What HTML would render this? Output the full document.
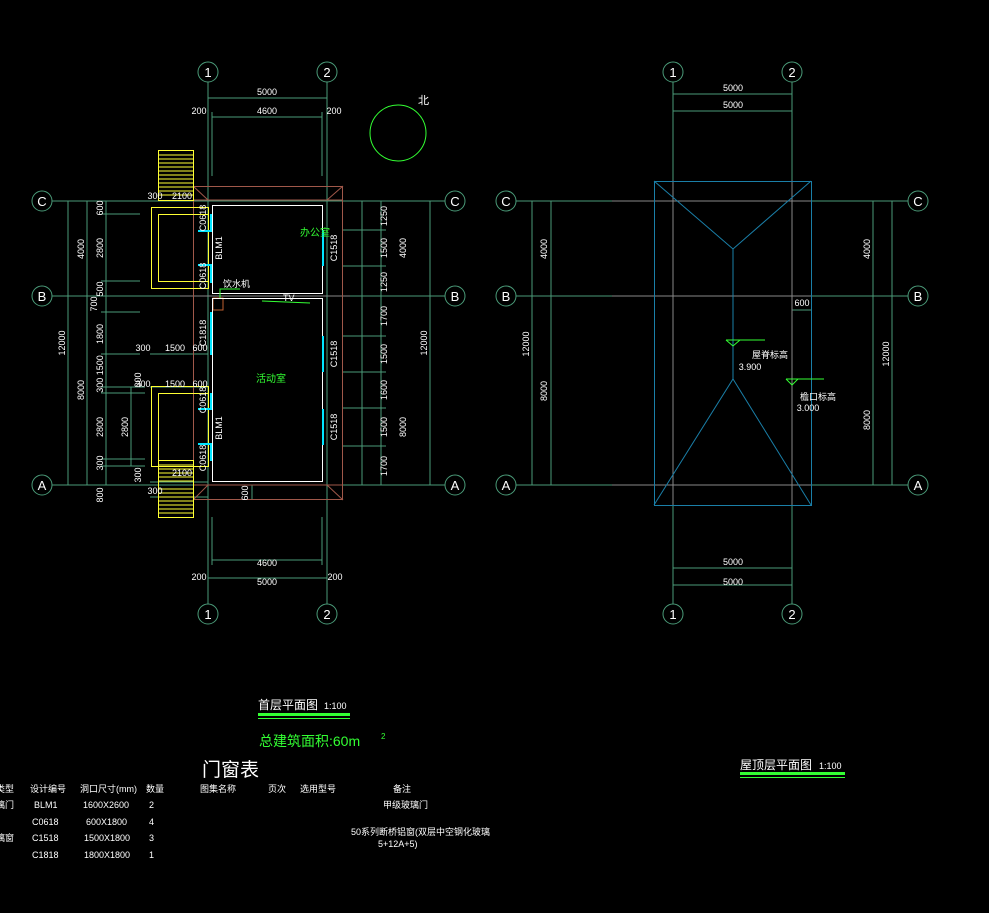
<!DOCTYPE html>
<html><head><meta charset="utf-8"><style>
html,body{margin:0;padding:0;background:#000;}
svg{display:block}
text{font-family:"Liberation Sans","Noto Sans CJK SC",sans-serif;fill:#fff}
</style></head><body>
<svg width="989" height="913" viewBox="0 0 989 913" xmlns="http://www.w3.org/2000/svg">
<g stroke="#4a9a78" stroke-width="1" fill="none">
<line x1="208" y1="82" x2="208" y2="604"/><line x1="327" y1="82" x2="327" y2="604"/>
<line x1="52" y1="201" x2="445" y2="201"/><line x1="52" y1="296" x2="445" y2="296"/><line x1="52" y1="485" x2="445" y2="485"/>
<circle cx="208" cy="72" r="10"/><circle cx="327" cy="72" r="10"/>
<circle cx="208" cy="614" r="10"/><circle cx="327" cy="614" r="10"/>
<circle cx="42" cy="201" r="10"/><circle cx="42" cy="296" r="10"/><circle cx="42" cy="485" r="10"/>
<circle cx="455" cy="201" r="10"/><circle cx="455" cy="296" r="10"/><circle cx="455" cy="485" r="10"/>
<line x1="208" y1="98" x2="327" y2="98"/><line x1="212" y1="117" x2="322" y2="117"/>
<line x1="212" y1="112" x2="212" y2="176"/><line x1="322" y1="112" x2="322" y2="176"/>
<line x1="212" y1="560" x2="322" y2="560"/><line x1="208" y1="578" x2="327" y2="578"/>
<line x1="212" y1="517" x2="212" y2="565"/><line x1="322" y1="517" x2="322" y2="565"/>
<line x1="68" y1="201" x2="68" y2="485"/><line x1="87" y1="201" x2="87" y2="485"/><line x1="106" y1="201" x2="106" y2="485"/>
<line x1="101" y1="214" x2="140" y2="214"/><line x1="101" y1="281" x2="140" y2="281"/>
<line x1="101" y1="312" x2="140" y2="312"/><line x1="101" y1="354" x2="140" y2="354"/>
<line x1="101" y1="387" x2="145" y2="387"/><line x1="101" y1="393" x2="145" y2="393"/>
<line x1="101" y1="459" x2="145" y2="459"/><line x1="101" y1="466" x2="145" y2="466"/>
<line x1="131" y1="387" x2="131" y2="466"/>
<line x1="150" y1="354" x2="208" y2="354"/><line x1="150" y1="387" x2="208" y2="387"/>
<line x1="150" y1="482" x2="208" y2="482"/><line x1="150" y1="497" x2="208" y2="497"/>
<line x1="252" y1="485" x2="252" y2="500"/>
<line x1="345" y1="201" x2="430" y2="201"/>
<line x1="362" y1="201" x2="362" y2="485"/><line x1="381" y1="201" x2="381" y2="485"/><line x1="430" y1="201" x2="430" y2="485"/>
<line x1="343" y1="230" x2="386" y2="230"/><line x1="343" y1="266" x2="386" y2="266"/>
<line x1="343" y1="336" x2="386" y2="336"/><line x1="343" y1="372" x2="386" y2="372"/>
<line x1="343" y1="408" x2="386" y2="408"/><line x1="343" y1="446" x2="386" y2="446"/>
<line x1="673" y1="82" x2="673" y2="604"/><line x1="792" y1="82" x2="792" y2="604"/>
<line x1="516" y1="201" x2="908" y2="201"/><line x1="516" y1="296" x2="908" y2="296"/><line x1="516" y1="485" x2="908" y2="485"/>
<circle cx="673" cy="72" r="10"/><circle cx="792" cy="72" r="10"/>
<circle cx="673" cy="614" r="10"/><circle cx="792" cy="614" r="10"/>
<circle cx="506" cy="201" r="10"/><circle cx="506" cy="296" r="10"/><circle cx="506" cy="485" r="10"/>
<circle cx="918" cy="201" r="10"/><circle cx="918" cy="296" r="10"/><circle cx="918" cy="485" r="10"/>
<line x1="673" y1="94" x2="792" y2="94"/><line x1="673" y1="111" x2="792" y2="111"/>
<line x1="673" y1="568" x2="792" y2="568"/><line x1="673" y1="585" x2="792" y2="585"/>
<line x1="532" y1="201" x2="532" y2="485"/><line x1="551" y1="201" x2="551" y2="485"/>
<line x1="873" y1="201" x2="873" y2="485"/><line x1="892" y1="201" x2="892" y2="485"/>
<line x1="792" y1="310" x2="811" y2="310"/>
</g>
<g stroke="#888" stroke-width="1">
<line x1="612" y1="201" x2="811" y2="201"/><line x1="612" y1="296" x2="811" y2="296"/><line x1="612" y1="485" x2="811" y2="485"/>
<line x1="673" y1="180" x2="673" y2="506"/><line x1="792" y1="180" x2="792" y2="506"/>
<line x1="180" y1="296" x2="350" y2="296"/>
</g>
<g stroke="#1a7fa8" stroke-width="1" fill="none">
<rect x="654.5" y="181.5" width="157" height="324"/>
<polyline points="654,181 733,249 811,181"/>
<line x1="733" y1="249" x2="733" y2="379"/>
<polyline points="654,505 733,379 811,505"/>
</g>
<g stroke="#33ff33" fill="none"><line x1="726" y1="340" x2="765" y2="340"/><polyline points="726,340 733,346 740,340"/>
<line x1="786" y1="379" x2="824" y2="379"/><polyline points="786,379 792,385 798,379"/>
<circle cx="398" cy="133" r="28"/></g>
<g stroke="#a0584a" fill="none">
<rect x="193.5" y="186.5" width="149" height="313"/>
<line x1="193" y1="200" x2="343" y2="200"/><line x1="193" y1="485" x2="343" y2="485"/>
<line x1="193" y1="186" x2="208" y2="200"/><line x1="343" y1="186" x2="327" y2="200"/>
<line x1="193" y1="500" x2="208" y2="485"/><line x1="343" y1="500" x2="327" y2="485"/>
<rect x="213" y="298" width="10" height="12" stroke="#c06030"/>
</g>
<g stroke="#fff" fill="none"><rect x="212.5" y="205.5" width="110" height="88"/><rect x="212.5" y="298.5" width="110" height="183"/></g>
<g stroke="#ffff33" fill="none">
<rect x="151.5" y="207.5" width="57" height="81"/><rect x="158.5" y="214.5" width="50" height="67"/>
<rect x="151.5" y="386.5" width="57" height="80"/><rect x="158.5" y="393.5" width="50" height="73"/>
<rect x="158.5" y="150.5" width="35" height="50"/><rect x="158.5" y="460.5" width="35" height="57"/>
<path d="M158 155h35M158 159h35M158 163h35M158 167h35M158 171h35M158 175h35M158 179h35M158 183h35M158 187h35M158 191h35M158 195h35M158 465h35M158 469h35M158 473h35M158 477h35M158 481h35M158 489h35M158 493h35M158 497h35M158 501h35M158 505h35M158 509h35M158 513h35"/>
</g>
<g stroke="#00e5ff" stroke-width="2" fill="none">
<line x1="211" y1="214" x2="211" y2="231"/><line x1="211" y1="266" x2="211" y2="283"/>
<line x1="211" y1="312" x2="211" y2="355"/><line x1="211" y1="393" x2="211" y2="410"/><line x1="211" y1="444" x2="211" y2="461"/>
<line x1="323" y1="230" x2="323" y2="266"/><line x1="323" y1="336" x2="323" y2="372"/><line x1="323" y1="409" x2="323" y2="445"/>
<line x1="198" y1="231" x2="212" y2="231"/><line x1="198" y1="265" x2="212" y2="265"/><line x1="198" y1="409" x2="212" y2="409"/><line x1="198" y1="444" x2="212" y2="444"/>
</g>
<g stroke="#33ff33" fill="none"><polyline points="220,298 220,289 240,289"/><line x1="262" y1="301" x2="310" y2="303"/></g>
<g font-size="9" text-anchor="middle">
<text x="267" y="95">5000</text><text x="267" y="114">4600</text><text x="199" y="114">200</text><text x="334" y="114">200</text>
<text x="267" y="566">4600</text><text x="267" y="585">5000</text><text x="199" y="580">200</text><text x="335" y="580">200</text>
<text x="733" y="91">5000</text><text x="733" y="108">5000</text><text x="733" y="565">5000</text><text x="733" y="585">5000</text>
<text x="802" y="306">600</text><text x="750" y="370">3.900</text><text x="808" y="411">3.000</text>
<text x="155" y="199">300</text><text x="182" y="199">2100</text><text x="155" y="494">300</text><text x="182" y="476">2100</text>
<text x="143" y="351">300</text><text x="175" y="351">1500</text><text x="200" y="351">600</text>
<text x="143" y="387">300</text><text x="175" y="387">1500</text><text x="200" y="387">600</text>
</g>
<g font-size="13" text-anchor="middle">
<text x="208" y="77">1</text><text x="327" y="77">2</text><text x="208" y="619">1</text><text x="327" y="619">2</text>
<text x="42" y="206">C</text><text x="42" y="301">B</text><text x="42" y="490">A</text>
<text x="455" y="206">C</text><text x="455" y="301">B</text><text x="455" y="490">A</text>
<text x="673" y="77">1</text><text x="792" y="77">2</text><text x="673" y="619">1</text><text x="792" y="619">2</text>
<text x="506" y="206">C</text><text x="506" y="301">B</text><text x="506" y="490">A</text>
<text x="918" y="206">C</text><text x="918" y="301">B</text><text x="918" y="490">A</text>
</g>
<g font-size="9" text-anchor="middle">
<text transform="translate(65,343) rotate(-90)">12000</text>
<text transform="translate(84,249) rotate(-90)">4000</text><text transform="translate(84,390) rotate(-90)">8000</text>
<text transform="translate(103,208) rotate(-90)">600</text><text transform="translate(103,248) rotate(-90)">2800</text>
<text transform="translate(103,289) rotate(-90)">500</text><text transform="translate(97,304) rotate(-90)">700</text>
<text transform="translate(103,334) rotate(-90)">1800</text><text transform="translate(103,374) rotate(-90)">300 1500</text>
<text transform="translate(103,427) rotate(-90)">2800</text><text transform="translate(103,463) rotate(-90)">300</text>
<text transform="translate(103,495) rotate(-90)">800</text><text transform="translate(128,427) rotate(-90)">2800</text>
<text transform="translate(141,475) rotate(-90)">300</text><text transform="translate(141,380) rotate(-90)">300</text>
<text transform="translate(248,493) rotate(-90)">600</text>
<text transform="translate(387,216) rotate(-90)">1250</text><text transform="translate(387,248) rotate(-90)">1500</text><text transform="translate(387,282) rotate(-90)">1250</text>
<text transform="translate(387,316) rotate(-90)">1700</text><text transform="translate(387,354) rotate(-90)">1500</text><text transform="translate(387,390) rotate(-90)">1600</text>
<text transform="translate(387,427) rotate(-90)">1500</text><text transform="translate(387,466) rotate(-90)">1700</text>
<text transform="translate(406,248) rotate(-90)">4000</text><text transform="translate(406,427) rotate(-90)">8000</text>
<text transform="translate(427,343) rotate(-90)">12000</text>
<text transform="translate(337,248) rotate(-90)">C1518</text><text transform="translate(337,354) rotate(-90)">C1518</text><text transform="translate(337,427) rotate(-90)">C1518</text>
<text transform="translate(206,218) rotate(-90)">C0618</text><text transform="translate(206,276) rotate(-90)">C0618</text>
<text transform="translate(206,333) rotate(-90)">C1818</text><text transform="translate(206,400) rotate(-90)">C0618</text><text transform="translate(206,458) rotate(-90)">C0618</text>
<text transform="translate(222,248) rotate(-90)">BLM1</text><text transform="translate(222,428) rotate(-90)">BLM1</text>
<text transform="translate(547,249) rotate(-90)">4000</text><text transform="translate(547,391) rotate(-90)">8000</text>
<text transform="translate(529,344) rotate(-90)">12000</text>
<text transform="translate(870,249) rotate(-90)">4000</text><text transform="translate(870,420) rotate(-90)">8000</text>
<text transform="translate(889,354) rotate(-90)">12000</text>
</g>
<g font-size="9">
<text x="223" y="287">饮水机</text><text x="283" y="301">TV</text>
<text x="752" y="358">屋脊标高</text><text x="800" y="400">檐口标高</text>
</g>
<g font-size="10">
<text x="300" y="236" style="fill:#33ff33">办公室</text><text x="256" y="382" style="fill:#33ff33">活动室</text>
</g>
<text x="418" y="104" font-size="11">北</text>
<text x="258" y="709" font-size="12">首层平面图</text><text x="324" y="709" font-size="9">1:100</text>
<rect x="258" y="713" width="92" height="3" fill="#33ff33"/><rect x="258" y="718" width="92" height="1" fill="#33ff33"/>
<text x="259" y="746" font-size="14" style="fill:#33ff33">总建筑面积:60m</text><text x="381" y="739" font-size="8" style="fill:#33ff33">2</text>
<text x="740" y="769" font-size="12">屋顶层平面图</text><text x="819" y="769" font-size="9">1:100</text>
<rect x="740" y="772" width="105" height="3" fill="#33ff33"/><rect x="740" y="777" width="105" height="1" fill="#33ff33"/>
<text x="202" y="776" font-size="19">门窗表</text>
<g font-size="9">
<text x="-4" y="792">类型</text><text x="30" y="792">设计编号</text><text x="80" y="792">洞口尺寸(mm)</text><text x="146" y="792">数量</text>
<text x="200" y="792">图集名称</text><text x="268" y="792">页次</text><text x="300" y="792">选用型号</text><text x="393" y="792">备注</text>
<text x="-4" y="808">璃门</text><text x="34" y="808">BLM1</text><text x="83" y="808">1600X2600</text><text x="149" y="808">2</text>
<text x="383" y="808">甲级玻璃门</text>
<text x="32" y="825">C0618</text><text x="86" y="825">600X1800</text><text x="149" y="825">4</text>
<text x="-4" y="841">璃窗</text><text x="32" y="841">C1518</text><text x="84" y="841">1500X1800</text><text x="149" y="841">3</text>
<text x="351" y="835">50系列断桥铝窗(双层中空钢化玻璃</text><text x="378" y="847">5+12A+5)</text>
<text x="32" y="858">C1818</text><text x="84" y="858">1800X1800</text><text x="149" y="858">1</text>
</g>
</svg>
</body></html>
